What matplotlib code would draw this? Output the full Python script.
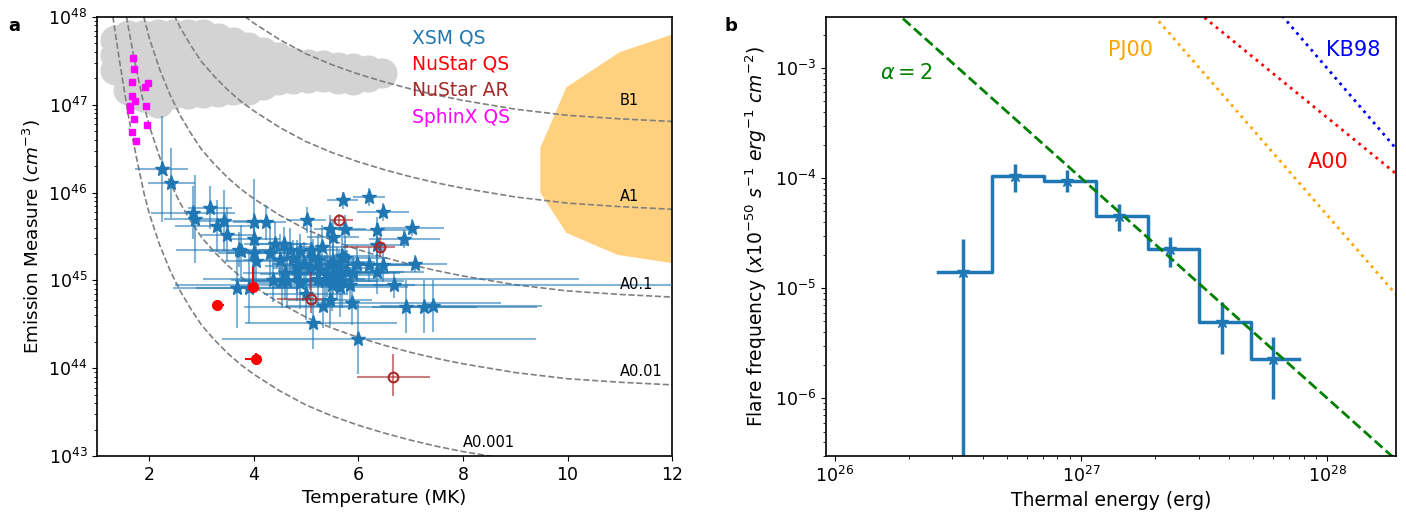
import numpy as np
import matplotlib
matplotlib.use("Agg")
import matplotlib.pyplot as plt

# ---------------- Panel a data ----------------
# GOES-class iso-flux curves: log EM of the A1 level vs temperature
goes_T = [1.2, 1.3, 1.4, 1.5, 1.6, 1.7, 1.8, 1.9, 2.0, 2.2, 2.4, 2.6, 2.8, 3.0, 3.25, 3.5,
          3.75, 4.0, 4.5, 5.0, 5.5, 6.0, 6.5, 7.0, 7.5, 8.0, 9.0, 10.0, 11.0, 12.0]
goes_logEM_A1 = [51.45, 51.02, 50.62, 50.24, 49.88, 49.56, 49.27, 48.99, 48.76, 48.40,
                 48.11, 47.87, 47.67, 47.49, 47.32, 47.17, 47.04, 46.93, 46.74, 46.58,
                 46.455, 46.35, 46.26, 46.18, 46.11, 46.05, 45.95, 45.88, 45.84, 45.81]
goes_names = ['B1', 'A1', 'A0.1', 'A0.01', 'A0.001']
goes_offsets = [1, 0, -1, -2, -3]
goes_label_T = [11.0, 11.0, 11.0, 11.0, 8.0]
goes_label_logEM = [47.05, 45.95, 44.95, 43.96, 43.15]

# XSM quiet-Sun microflares
xsm_T = [2.24, 2.42, 2.84, 2.88, 3.16, 3.30, 3.42, 3.48, 3.72, 3.75,
         4.00, 4.23, 4.00, 4.05, 4.01, 3.67, 3.90, 4.41, 4.30, 4.57,
         4.50, 4.69, 4.74, 4.82, 4.88, 5.01, 5.09, 5.30, 5.23, 5.46,
         5.52, 5.70, 5.75, 6.20, 6.47, 6.36, 7.03, 6.88, 6.36, 6.20,
         6.35, 6.47, 7.09, 6.68, 5.84, 5.87, 6.91, 7.26, 7.42, 4.36,
         4.53, 4.88, 5.00, 5.32, 5.46, 5.14, 5.99, 5.27, 5.39, 5.52,
         5.62, 5.68, 5.78, 5.49, 5.36, 5.75, 5.68, 5.52, 5.23, 5.46,
         5.59, 5.65, 4.60, 4.63, 4.82, 4.95, 5.07, 5.14, 5.90, 5.97]
xsm_T_lo = [0.51, 0.45, 0.80, 0.60, 0.42, 0.80, 0.50, 0.50, 1.20, 0.60,
            0.40, 0.38, 0.50, 0.60, 0.70, 1.22, 1.00, 0.60, 0.80, 0.50,
            0.70, 0.60, 0.50, 0.60, 0.50, 0.37, 0.60, 0.50, 0.70, 0.30,
            0.50, 0.30, 0.40, 0.30, 0.50, 0.75, 0.60, 0.68, 0.60, 0.80,
            0.90, 0.70, 0.60, 0.40, 1.00, 0.86, 3.10, 1.00, 1.00, 0.80,
            0.90, 0.90, 0.80, 0.70, 0.80, 1.31, 2.60, 0.80, 0.90, 2.50,
            0.90, 1.20, 1.10, 3.00, 1.00, 0.80, 0.70, 0.80, 0.90, 0.90,
            1.00, 1.30, 0.80, 0.90, 0.70, 0.60, 0.70, 0.60, 0.90, 0.60]
xsm_T_hi = [0.51, 0.45, 0.80, 0.60, 0.42, 0.80, 0.50, 0.50, 1.20, 0.60,
            0.40, 0.38, 0.50, 0.60, 0.70, 1.20, 1.00, 0.60, 0.80, 0.50,
            0.70, 0.60, 0.50, 0.60, 0.50, 0.37, 0.60, 0.50, 0.70, 0.30,
            0.50, 0.30, 0.40, 0.30, 0.50, 0.75, 0.60, 0.68, 0.60, 0.80,
            0.90, 0.70, 0.60, 0.40, 1.00, 2.85, 2.50, 1.00, 2.10, 0.80,
            0.90, 0.90, 0.80, 0.70, 0.80, 1.59, 3.40, 0.80, 0.90, 4.70,
            0.90, 1.20, 1.10, 6.60, 1.00, 0.80, 0.70, 0.80, 0.90, 0.90,
            1.00, 1.30, 0.80, 0.90, 0.70, 0.60, 0.70, 0.60, 0.90, 0.60]
xsm_logEM = [46.27, 46.11, 45.77, 45.70, 45.83, 45.62, 45.68, 45.52, 45.35, 45.33,
             45.66, 45.66, 45.47, 45.22, 45.31, 44.91, 44.91, 45.42, 45.31, 45.41,
             45.23, 45.35, 45.26, 45.16, 45.33, 45.69, 45.35, 45.38, 45.23, 45.59,
             45.49, 45.91, 45.59, 45.95, 45.78, 45.57, 45.60, 45.47, 45.40, 45.18,
             45.10, 45.18, 45.19, 44.95, 44.95, 44.74, 44.70, 44.70, 44.71, 45.00,
             44.99, 44.97, 44.85, 44.71, 44.78, 44.52, 44.33, 45.12, 45.06, 45.02,
             45.14, 44.99, 45.10, 44.95, 44.99, 45.25, 45.28, 45.21, 45.02, 45.18,
             45.08, 44.93, 45.08, 44.99, 45.07, 45.19, 45.14, 45.27, 45.08, 45.19]
xsm_logEM_err = [0.60, 0.40, 0.30, 0.50, 0.25, 0.30, 0.35, 0.30, 0.20, 0.30,
                 0.50, 0.20, 0.30, 0.30, 0.30, 0.45, 0.40, 0.25, 0.30, 0.20,
                 0.30, 0.25, 0.20, 0.30, 0.20, 0.15, 0.30, 0.25, 0.30, 0.15,
                 0.20, 0.10, 0.15, 0.10, 0.10, 0.15, 0.10, 0.10, 0.25, 0.20,
                 0.25, 0.20, 0.10, 0.15, 0.20, 0.25, 0.30, 0.30, 0.30, 0.25,
                 0.30, 0.30, 0.30, 0.25, 0.30, 0.30, 0.40, 0.20, 0.25, 0.30,
                 0.20, 0.30, 0.25, 0.30, 0.30, 0.20, 0.20, 0.25, 0.30, 0.25,
                 0.30, 0.35, 0.30, 0.30, 0.30, 0.25, 0.25, 0.20, 0.20, 0.20]

# NuSTAR quiet Sun
nqs_T = [3.99, 3.30, 4.04]
nqs_T_lo = [0.05, 0.0, 0.21]
nqs_T_hi = [0.05, 0.13, 0.0]
nqs_logEM = [44.93, 44.72, 44.105]
nqs_logEM_lo = [0.0, 0.0, 0.0]
nqs_logEM_hi = [0.22, 0.0, 0.065]

# NuSTAR active region
nar_T = [5.62, 6.41, 5.09, 6.67]
nar_T_lo = [0.16, 0.70, 0.65, 0.70]
nar_T_hi = [0.28, 0.29, 0.23, 0.70]
nar_logEM = [45.69, 45.38, 44.79, 43.90]
nar_logEM_lo = [0.05, 0.11, 0.16, 0.22]
nar_logEM_hi = [0.07, 0.11, 0.31, 0.26]

# SphinX quiet Sun
sphinx_T = [1.69, 1.71, 1.67, 1.98, 1.67, 1.92, 1.73, 1.63, 1.94, 1.63, 1.71, 1.96, 1.67, 1.74]
sphinx_logEM = [47.53, 47.41, 47.26, 47.25, 47.10, 47.20, 47.04, 46.99, 46.99, 46.94,
                46.84, 46.77, 46.69, 46.59]

# Large-flare population (grey cloud)
cloud_T = ([1.344] * 3 + [1.593] * 5 + [1.880] * 5 + [2.167] * 6 + [2.454] * 5 + [2.741] * 5 +
           [3.028] * 5 + [3.315] * 5 + [3.602] * 4 + [3.889] * 4 + [4.176] * 3 + [4.463] * 3 +
           [4.750] * 2 + [5.037] * 2 + [5.324] * 2 + [5.611] * 2 + [5.898] * 2 + [6.185] * 2 +
           [6.453])
cloud_logEM = [47.74, 47.57, 47.40,
               47.80, 47.62, 47.45, 47.28, 47.17,
               47.80, 47.62, 47.45, 47.28, 47.09,
               47.81, 47.64, 47.46, 47.29, 47.14, 47.02,
               47.81, 47.64, 47.46, 47.29, 47.12,
               47.81, 47.64, 47.46, 47.29, 47.12,
               47.81, 47.64, 47.46, 47.29, 47.13,
               47.76, 47.59, 47.42, 47.28, 47.15,
               47.72, 47.53, 47.35, 47.17,
               47.66, 47.49, 47.33, 47.17,
               47.60, 47.42, 47.23,
               47.54, 47.42, 47.28,
               47.49, 47.29,
               47.47, 47.31,
               47.45, 47.32,
               47.43, 47.29,
               47.42, 47.28,
               47.40, 47.32,
               47.36]

# Active-region flare region (orange hull)
hull_T = [13.0, 12.0, 11.0, 9.98, 9.48, 9.48, 9.98, 10.96, 11.96, 13.0]
hull_logEM = [48.05, 47.80, 47.60, 47.20, 46.51, 46.00, 45.54, 45.29, 45.20, 45.10]

legend_labels = ['XSM QS', 'NuStar QS', 'NuStar AR', 'SphinX QS']
legend_colors = ['tab:blue', 'red', 'brown', 'magenta']

# ---------------- Panel b data ----------------
bin_edges = [2.61e26, 4.36e26, 7.05e26, 1.15e27, 1.86e27, 3.01e27, 4.89e27, 7.69e27]
bin_centers = [3.30e26, 5.38e26, 8.73e26, 1.42e27, 2.30e27, 3.73e27, 6.03e27]
freq = [1.41e-5, 1.035e-4, 9.5e-5, 4.56e-5, 2.26e-5, 4.94e-6, 2.30e-6]
freq_err_lo = [1.40e-5, 2.9e-5, 2.05e-5, 1.23e-5, 6.9e-6, 2.4e-6, 1.32e-6]
freq_err_hi = [1.38e-5, 3.15e-5, 2.25e-5, 1.27e-5, 6.3e-6, 2.54e-6, 1.3e-6]

alpha2_E = [1.0e26, 2.0e28]
alpha2_F = [1.0e-2, 2.5e-7]
pj00_E = [1.0e27, 2.0e28]
pj00_F = [1.72e-2, 7.7e-6]
a00_E = [1.0e27, 2.0e28]
a00_F = [2.34e-2, 9.98e-5]
kb98_E = [1.0e27, 2.0e28]
kb98_F = [0.40, 1.62e-4]

# ---------------- Plot ----------------
plt.rcParams['font.family'] = ['DejaVu Sans']
plt.rcParams['axes.linewidth'] = 1.2
fig = plt.figure(figsize=(14.06, 5.21), dpi=100)
ax1 = fig.add_axes([0.0690, 0.1248, 0.4090, 0.8426])
ax2 = fig.add_axes([0.5875, 0.1248, 0.4054, 0.8426])

# Panel a
ax1.scatter(cloud_T, 10 ** np.array(cloud_logEM), s=470, color='#d3d3d3', lw=0, zorder=1)
ax1.fill(hull_T, 10 ** np.array(hull_logEM), color='orange', alpha=0.5, lw=0, zorder=1)
gT = np.array(goes_T)
for name, off, lt, ll in zip(goes_names, goes_offsets, goes_label_T, goes_label_logEM):
    ax1.plot(gT, 10 ** (np.array(goes_logEM_A1) + off), ls='--', color='gray', lw=1.2, zorder=2)
    ax1.text(lt, 10 ** ll, name, fontsize=10.5, ha='left', va='center', zorder=5)

xT = np.array(xsm_T)
xL = np.array(xsm_logEM)
xLe = np.array(xsm_logEM_err)
xEM = 10 ** xL
ax1.errorbar(xT, xEM, xerr=[xsm_T_lo, xsm_T_hi],
             yerr=[xEM - 10 ** (xL - xLe), 10 ** (xL + xLe) - xEM],
             fmt='none', ecolor='tab:blue', alpha=0.55, elinewidth=1.5, zorder=3)
ax1.plot(xT, xEM, ls='none', marker='*', color='tab:blue', ms=11, zorder=4)

nL = np.array(nqs_logEM)
nEM = 10 ** nL
ax1.errorbar(nqs_T, nEM, xerr=[nqs_T_lo, nqs_T_hi],
             yerr=[nEM - 10 ** (nL - np.array(nqs_logEM_lo)), 10 ** (nL + np.array(nqs_logEM_hi)) - nEM],
             fmt='o', color='red', ms=7, elinewidth=1.5, zorder=5)

aL = np.array(nar_logEM)
aEM = 10 ** aL
ax1.errorbar(nar_T, aEM, xerr=[nar_T_lo, nar_T_hi],
             yerr=[aEM - 10 ** (aL - np.array(nar_logEM_lo)), 10 ** (aL + np.array(nar_logEM_hi)) - aEM],
             fmt='none', ecolor='brown', alpha=0.6, elinewidth=1.5, zorder=5)
ax1.plot(nar_T, aEM, ls='none', marker='o', mfc='none', mec='brown', mew=1.5, ms=7, zorder=6)

ax1.plot(sphinx_T, 10 ** np.array(sphinx_logEM), ls='none', marker='s', color='magenta', ms=5, zorder=6)

for i, (lab, col) in enumerate(zip(legend_labels, legend_colors)):
    ax1.text(0.548, 0.952 - i * 0.06, lab, color=col, fontsize=13.5, transform=ax1.transAxes,
             ha='left', va='center', zorder=7)

ax1.set_yscale('log')
ax1.set_xlim(1, 12)
ax1.set_ylim(1e43, 1e48)
ax1.set_xticks([2, 4, 6, 8, 10, 12])
ax1.set_xlabel('Temperature (MK)', fontsize=13.2)
ax1.set_ylabel(r'Emission Measure ($cm^{-3}$)', fontsize=13.2)
ax1.tick_params(labelsize=12.5)

# Panel b
ax2.step(bin_edges, list(freq) + [freq[-1]], where='post', color='tab:blue', lw=2.5)
ax2.errorbar(bin_centers, freq, yerr=[freq_err_lo, freq_err_hi], fmt='*', color='tab:blue',
             ms=9, elinewidth=2.5)
ax2.plot(alpha2_E, alpha2_F, ls='--', color='green', lw=2)
ax2.plot(pj00_E, pj00_F, ls=':', color='orange', lw=2)
ax2.plot(a00_E, a00_F, ls=':', color='red', lw=2)
ax2.plot(kb98_E, kb98_F, ls=':', color='blue', lw=2)
ax2.text(1.52e26, 8.9e-4, r'$\alpha = 2$', color='green', fontsize=15, ha='left', va='center')
ax2.text(1.29e27, 1.45e-3, 'PJ00', color='orange', fontsize=15, ha='left', va='center')
ax2.text(9.86e27, 1.45e-3, 'KB98', color='blue', fontsize=15, ha='left', va='center')
ax2.text(8.34e27, 1.41e-4, 'A00', color='red', fontsize=15, ha='left', va='center')

ax2.set_xscale('log')
ax2.set_yscale('log')
ax2.set_xlim(9.2e25, 1.9e28)
ax2.set_ylim(3.0e-7, 2.9e-3)
ax2.set_xlabel('Thermal energy (erg)', fontsize=13.5)
ax2.set_ylabel(r'Flare frequency ($x10^{-50}$ $s^{-1}$ $erg^{-1}$ $cm^{-2}$)', fontsize=13.5)
ax2.tick_params(labelsize=12.5)

fig.text(0.006, 0.94, 'a', fontsize=13, fontweight='bold')
fig.text(0.515, 0.94, 'b', fontsize=13, fontweight='bold')

fig.savefig('out.png', dpi=100)
